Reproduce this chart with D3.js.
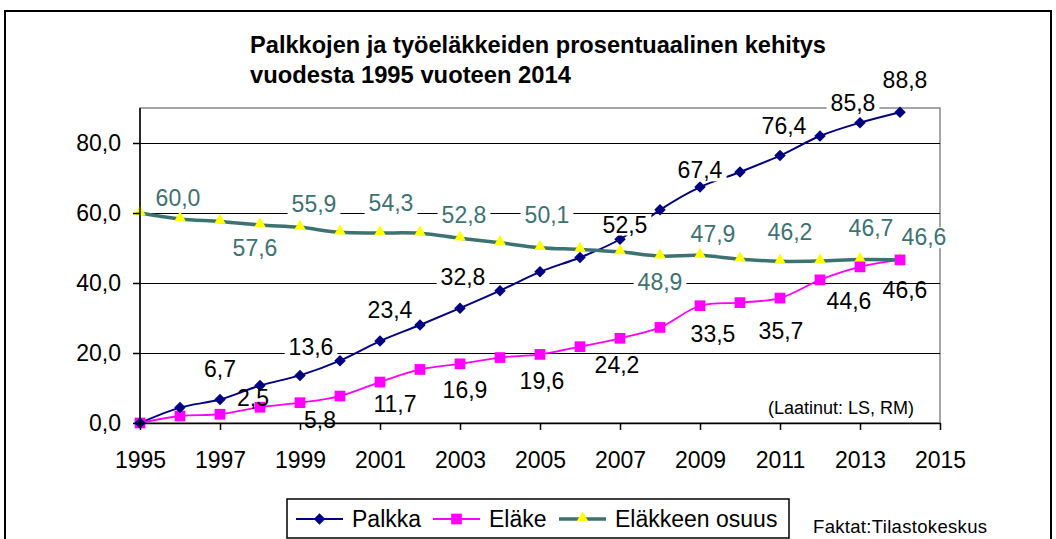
<!DOCTYPE html>
<html>
<head>
<meta charset="utf-8">
<script src="https://cdn.jsdelivr.net/npm/d3@7"></script>
<style>
  body { margin: 0; background: #fff; }
  text { font-family: "Liberation Sans", Arial, sans-serif; }
</style>
</head>
<body>
<svg id="chart"></svg>
<script>
// palkkojen ja eläkkeiden kehitys 1995-2014

var width = 1056;
var height = 539;

// DATA
var years = d3.range(1995, 2015);
var palkka = [0, 4.4, 6.7, 10.7, 13.6, 17.8, 23.4, 28.0, 32.8, 37.8, 43.2, 47.3, 52.5, 60.9, 67.4, 71.7, 76.4, 82.0, 85.8, 88.8];
var elake = [0, 2.0, 2.5, 4.5, 5.8, 7.7, 11.7, 15.3, 16.9, 18.7, 19.6, 21.8, 24.2, 27.3, 33.5, 34.4, 35.7, 40.9, 44.6, 46.6];
var osuus = [60.0, 58.3, 57.6, 56.6, 55.9, 54.5, 54.3, 54.2, 52.8, 51.5, 50.1, 49.6, 48.9, 47.7, 47.9, 46.8, 46.2, 46.3, 46.7, 46.6];

var palkkaLabelYears = [1997, 1999, 2001, 2003, 2007, 2009, 2011, 2013, 2014];
var elakeLabelYears = [1997, 1999, 2001, 2003, 2005, 2007, 2009, 2011, 2013, 2014];
var osuusLabelYears = [1995, 1997, 1999, 2001, 2003, 2005, 2007, 2009, 2011, 2013, 2014];

var yTicks = [0, 20, 40, 60, 80];
var xTicks = d3.range(1995, 2016, 2);
var seriesNames = ["Palkka", "Eläke", "Eläkkeen osuus"];

// label placement (offset from the point, px) - dragged by hand in the original
var palkkaLabelOff = [[0,-31],[11,-29],[10,-31],[3,-31],[5,-15],[0,-17],[4,-30],[-7,-20],[5,-32]];
var elakeLabelOff = [[33,-17],[20,17],[15,22],[5,26],[2,26],[-3,26],[13,28],[1,33],[-11,34],[5,30]];
var osuusLabelOff = [[38,-15],[35,26],[14,-24],[11,-30],[4,-23],[7,-33],[40,30],[13,-22],[10,-30],[11,-32],[24,-23]];

var navy = "#000080";
var magenta = "#ff00ff";
var teal = "#3d7272";

var fi = d3.formatLocale({decimal: ",", thousands: "\u00a0", grouping: [3], currency: ["", "€"]});
var fmt = fi.format(".1f");

var margin = {top: 108, right: 116, bottom: 116, left: 140};

var svg = d3.select("#chart")
    .attr("width", width)
    .attr("height", height);

// SCALES
var x = d3.scaleLinear().domain([1995, 2015]).range([margin.left, width - margin.right]);
var y = d3.scaleLinear().domain([0, 90]).range([height - margin.bottom, margin.top]);

// outer frame
svg.append("rect")
    .attr("x", 5).attr("y", 11)
    .attr("width", 1046).attr("height", 600)
    .style("fill", "none").style("stroke", "#000").style("stroke-width", 2);

// TITLE
svg.append("text").attr("x", 250).attr("y", 53)
    .attr("textLength", 576).attr("lengthAdjust", "spacingAndGlyphs")
    .style("font-size", "24px").style("font-weight", "bold")
    .text("Palkkojen ja työeläkkeiden prosentuaalinen kehitys");
svg.append("text").attr("x", 250).attr("y", 83)
    .attr("textLength", 321).attr("lengthAdjust", "spacingAndGlyphs")
    .style("font-size", "24px").style("font-weight", "bold")
    .text("vuodesta 1995 vuoteen 2014");

// plot area border (top/right grey)
svg.append("rect")
    .attr("x", x(1995)).attr("y", y(90))
    .attr("width", x(2015) - x(1995)).attr("height", y(0) - y(90))
    .style("fill", "none").style("stroke", "#888").style("stroke-width", 1.5);

// gridlines
svg.append("g")
    .attr("transform", "translate(" + margin.left + ",0)")
    .call(d3.axisLeft(y).tickValues(yTicks.slice(1)).tickSize(-(x(2015) - x(1995))).tickFormat(""))
    .call(g => g.select(".domain").remove())
    .selectAll("line").style("stroke", "#000").style("stroke-width", 1);

// LINES
var line = d3.line()
    .x((d, i) => x(years[i]))
    .y(d => y(d))
    .curve(d3.curveCatmullRom.alpha(0.5));

svg.append("path").datum(palkka).attr("d", line)
    .style("fill", "none").style("stroke", navy).style("stroke-width", 2);
svg.append("path").datum(elake).attr("d", line)
    .style("fill", "none").style("stroke", magenta).style("stroke-width", 1.8);
svg.append("path").datum(osuus).attr("d", line)
    .style("fill", "none").style("stroke", teal).style("stroke-width", 3.5);

// MARKERS
var diamond = d3.symbol().type(d3.symbolDiamond2).size(85);
var square = d3.symbol().type(d3.symbolSquare).size(115);
var triangle = d3.symbol().type(d3.symbolTriangle).size(58);

svg.append("g").selectAll("path").data(osuus).enter().append("path")
    .attr("transform", (d, i) => "translate(" + x(years[i]) + "," + (y(d) - 1) + ")")
    .attr("d", triangle).style("fill", "#ffff00");
svg.append("g").selectAll("path").data(elake).enter().append("path")
    .attr("transform", (d, i) => "translate(" + x(years[i]) + "," + y(d) + ")")
    .attr("d", square).style("fill", magenta);
svg.append("g").selectAll("path").data(palkka).enter().append("path")
    .attr("transform", (d, i) => "translate(" + x(years[i]) + "," + y(d) + ")")
    .attr("d", diamond).style("fill", navy);

// DATA LABELS
function addLabels(values, labelYears, offs, color, boxed) {
    var g = svg.append("g");
    labelYears.forEach(function(yr, k) {
        var v = values[years.indexOf(yr)];
        var lx = x(yr) + offs[k][0];
        var ly = y(v) + offs[k][1];
        var t = g.append("text")
            .attr("x", lx).attr("y", ly).attr("dy", "0.36em")
            .attr("text-anchor", "middle")
            .style("font-size", "23px").style("fill", color)
            .text(fmt(v));
        if (boxed) {
            var b = t.node().getBBox();
            g.insert("rect", "text")
                .attr("x", b.x - 4).attr("y", b.y + 3)
                .attr("width", b.width + 8).attr("height", b.height - 5)
                .style("fill", "#fff");
        }
    });
}
addLabels(osuus, osuusLabelYears, osuusLabelOff, teal, true);
addLabels(palkka, palkkaLabelYears, palkkaLabelOff, "#000", true);
addLabels(elake, elakeLabelYears, elakeLabelOff, "#000", false);

// AXES
var yAxis = svg.append("g")
    .attr("transform", "translate(" + margin.left + ",0)")
    .call(d3.axisLeft(y).tickValues(yTicks).tickSize(7).tickSizeOuter(0).tickPadding(12).tickFormat(fmt));
var xAxis = svg.append("g")
    .attr("transform", "translate(0," + y(0) + ")")
    .call(d3.axisBottom(x).tickValues(xTicks).tickSize(7).tickSizeOuter(0).tickPadding(22).tickFormat(d3.format("d")));

[yAxis, xAxis].forEach(function(a) {
    a.selectAll("text").style("font-size", "23px").style("fill", "#000")
        .style("font-family", "'Liberation Sans', Arial, sans-serif");
    a.selectAll("line, .domain").style("stroke", "#000").style("stroke-width", 1.5);
});
yAxis.select(".domain").attr("d", "M0," + y(90) + "V" + y(0));

// notes
svg.append("text").attr("x", 768).attr("y", 414)
    .style("font-size", "18px").text("(Laatinut: LS, RM)");
svg.append("text").attr("x", 813).attr("y", 533)
    .attr("textLength", 174)
    .style("font-size", "18.5px").text("Faktat:Tilastokeskus");

// LEGEND
var legend = svg.append("g");
legend.append("rect")
    .attr("x", 287).attr("y", 499).attr("width", 502).attr("height", 39)
    .style("fill", "#fff").style("stroke", "#000").style("stroke-width", 1.5);

var legendX = [296, 433, 559];
var legendColors = [navy, magenta, teal];
var legendWidths = [2, 1.8, 3.5];
var legendSymbols = [diamond, square, triangle];
var legendFills = [navy, magenta, "#ffff00"];

seriesNames.forEach(function(name, i) {
    var lx = legendX[i];
    var ly = 519;
    legend.append("line")
        .attr("x1", lx).attr("x2", lx + 47).attr("y1", ly).attr("y2", ly)
        .style("stroke", legendColors[i]).style("stroke-width", legendWidths[i]);
    legend.append("path")
        .attr("transform", "translate(" + (lx + 23.5) + "," + (i == 2 ? ly - 1 : ly) + ")")
        .attr("d", legendSymbols[i]).style("fill", legendFills[i]);
    legend.append("text")
        .attr("x", lx + 56).attr("y", ly).attr("dy", "0.36em")
        .style("font-size", "23px").text(name);
});
</script>
</body>
</html>
